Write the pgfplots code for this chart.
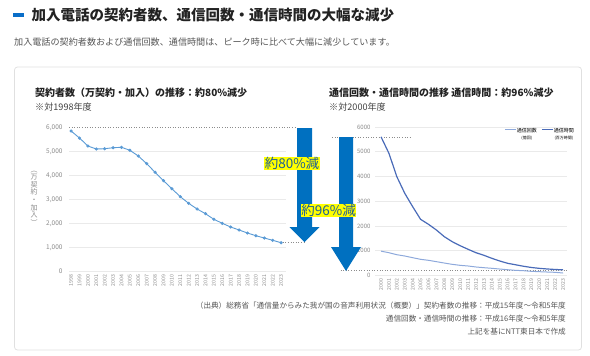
\documentclass[border=0pt]{standalone}
\usepackage{fontspec}
\usepackage{pgfplots}
\pgfplotsset{compat=1.18}
\setmainfont{Noto Sans CJK JP}

\definecolor{headblue}{HTML}{0A6EC8}
\definecolor{arrowblue}{HTML}{0070C0}
\definecolor{subsline}{HTML}{5B9BD5}
\definecolor{callsline}{HTML}{8EA9DB}
\definecolor{timeline}{HTML}{4A6BB8}
\definecolor{gridc}{HTML}{EAEAEA}
\definecolor{tickc}{HTML}{8A8A8A}
\definecolor{bodyc}{HTML}{555555}
\definecolor{titlec}{HTML}{222222}
\definecolor{hilite}{HTML}{FFFF00}
\definecolor{hitext}{HTML}{1F5F95}

\newcommand{\fs}[1]{\fontsize{#1bp}{#1bp}\selectfont}

% subscriber contracts (10k), fiscal years 1998-2023
\pgfplotstableread{
year subs
1998 5846
1999 5554
2000 5221
2001 5096
2002 5108
2003 5150
2004 5167
2005 5042
2006 4804
2007 4485
2008 4125
2009 3775
2010 3442
2011 3108
2012 2833
2013 2596
2014 2400
2015 2167
2016 2000
2017 1846
2018 1721
2019 1596
2020 1483
2021 1387
2022 1292
2023 1192
}\subscribers

% calls (100M) and call time (1M hours), fiscal years 2000-2023
\pgfplotstableread{
year calls hours
2000 980 5600
2001 917 4933
2002 836 3988
2003 784 3317
2004 716 2776
2005 650 2266
2006 610 2064
2007 555 1834
2008 500 1564
2009 447 1362
2010 407 1200
2011 380 1055
2012 340 917
2013 312 812
2014 287 691
2015 258 582
2016 230 489
2017 205 430
2018 190 370
2019 165 320
2020 150 285
2021 137 260
2022 125 240
2023 97 224
}\traffic

\pgfplotsset{
  panel/.style={
    scale only axis, anchor=south west, clip=false,
    axis line style={draw=none}, major tick length=0pt,
    ymajorgrids, grid style={gridc, line width=0.6bp},
    xticklabel style={rotate=90, anchor=east, font=\fs{5.2}, text=tickc,
      /pgf/number format/1000 sep={}},
    /pgf/number format/assume math mode=true,
  },
}

\begin{document}
\begin{tikzpicture}[x=1bp,y=-1bp]
\path[use as bounding box] (0,0) rectangle (590,355);
\coordinate (leftorigin) at (69,271.3);
\coordinate (rightorigin) at (375,275.4);

% page header
\fill[headblue] (13,13.3) rectangle (24,16.7);
\node[anchor=west, inner sep=0, font=\fs{14.5}\bfseries, text=titlec] at (31.5,15)
  {加入電話の契約者数、通信回数・通信時間の大幅な減少};
\node[anchor=west, inner sep=0, font=\fs{9.1}, text=bodyc] at (14,42.5)
  {加入電話の契約者数および通信回数、通信時間は、ピーク時に比べて大幅に減少しています。};

% card
\draw[black!12, line width=0.8bp, rounded corners=3bp] (14.5,67) rectangle (581.5,350);

% panel titles
\node[anchor=west, inner sep=0, font=\fs{10}\bfseries, text=titlec] at (35,92.7)
  {契約者数（万契約・加入）の推移：約80\%減少};
\node[anchor=west, inner sep=0, font=\fs{9.1}, text=black!75] at (35,106.7) {※対1998年度};
\node[anchor=west, inner sep=0, font=\fs{10}\bfseries, text=titlec] at (329,92.7)
  {通信回数・通信時間の推移 通信時間：約96\%減少};
\node[anchor=west, inner sep=0, font=\fs{9.1}, text=black!75] at (329,106.7) {※対2000年度};

% vertical unit label
\node[align=center, inner sep=0, font=\fontsize{7bp}{7.6bp}\selectfont, text=tickc] at (34,198)
  {︵\\万\\契\\約\\・\\加\\入\\︶};

% left panel: subscribers
\begin{axis}[panel,
  at={(leftorigin)}, width=216.7bp, height=144bp,
  xmin=1997.75, xmax=2023.55, ymin=0, ymax=6000,
  xtick={1998,...,2023},
  ytick={0,1000,...,5000}, extra y ticks={6000}, extra y tick style={grid=none},
  yticklabel style={font=\fs{6.5}, text=tickc, /pgf/number format/1000 sep={,}, xshift=-3bp},
]
\draw[black!45, dotted, line width=0.6bp] (axis cs:1997.75,6000) -- (axis cs:2024.9,6000);
\draw[black!45, dotted, line width=0.6bp] (axis cs:2023.2,1192) -- (axis cs:2025.85,1192);
\addplot[subsline, line width=0.9bp, mark=*, mark size=1.1bp] table[x=year, y=subs] {\subscribers};
\end{axis}

% right panel: calls and call time
\begin{axis}[panel,
  at={(rightorigin)}, width=192bp, height=148.5bp,
  xmin=1999.24, xmax=2023.5, ymin=0, ymax=6000,
  xtick={2000,...,2023},
  ytick={0,1000,...,6000},
  yticklabel style={font=\fs{6}, text=tickc, /pgf/number format/1000 sep={}, xshift=-1bp},
  legend style={at={(1.04,0.995)}, anchor=north east, draw=none, fill=none,
    legend columns=2, font=\fs{5}, inner sep=0pt,
    /tikz/every even column/.append style={column sep=4bp},
    nodes={inner sep=0.5bp}},
  legend cell align=left,
  legend image code/.code={\draw[#1] (0bp,5.2bp) -- (11bp,5.2bp);},
]
\draw[black!45, dotted, line width=0.6bp] (axis cs:1993.8,5600) -- (axis cs:2003.66,5600);
\draw[black!45, dotted, line width=0.6bp] (axis cs:1994.9,224) -- (axis cs:2023.5,224);
\addplot[callsline, line width=1bp] table[x=year, y=calls] {\traffic};
\addlegendentry{\shortstack{通信回数\\{\fs{4}(億回)}}}
\addplot[timeline, line width=1.2bp] table[x=year, y=hours] {\traffic};
\addlegendentry{\shortstack{通信時間\\{\fs{4}(百万時間)}}}
\end{axis}

% reduction arrows
\fill[arrowblue] (297,128) -- (312,128) -- (312,227) -- (319.5,227) -- (304.5,242)
  -- (289.5,227) -- (297,227) -- cycle;
\fill[arrowblue] (339,137) -- (353,137) -- (353,247) -- (361,247) -- (346,271)
  -- (331,247) -- (339,247) -- cycle;
\node[fill=hilite, inner sep=0.3bp, text=hitext, font=\fs{13.5}] at (292,163.8) {約80\%減};
\node[fill=hilite, inner sep=0.3bp, text=hitext, font=\fs{13.5}] at (328.7,210.5) {約96\%減};

% source note
\node[anchor=east, inner sep=0, font=\fs{7.6}, text=bodyc] at (566,305.5)
  {（出典）総務省「通信量からみた我が国の音声利用状況（概要）」契約者数の推移：平成15年度〜令和5年度};
\node[anchor=east, inner sep=0, font=\fs{7.6}, text=bodyc] at (566,318.5)
  {通信回数・通信時間の推移：平成16年度〜令和5年度};
\node[anchor=east, inner sep=0, font=\fs{7.6}, text=bodyc] at (566,331.5)
  {上記を基にNTT東日本で作成};
\end{tikzpicture}
\end{document}
